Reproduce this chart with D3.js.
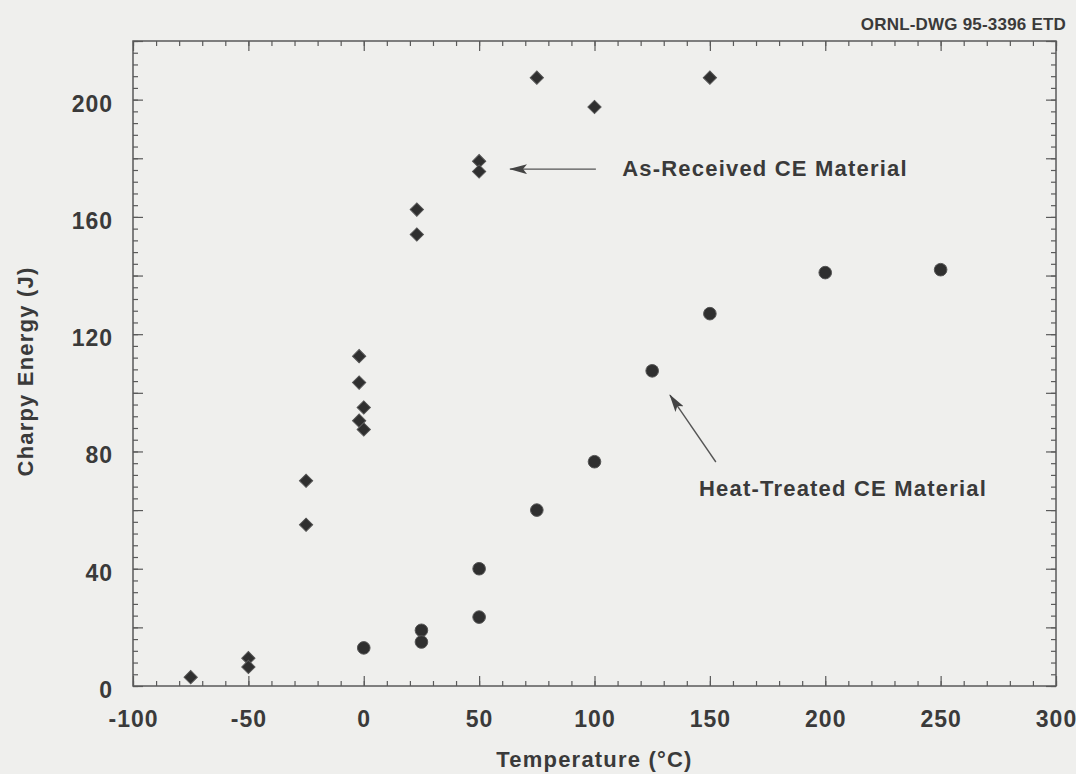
<!DOCTYPE html>
<html>
<head>
<meta charset="utf-8">
<script src="https://cdn.jsdelivr.net/npm/d3@7"></script>
<style>
  html, body { margin: 0; padding: 0; background: #efefed; }
  svg { display: block; font-family: "Liberation Sans", Arial, sans-serif; }
  .tick-label { font-family: "Liberation Sans", Arial, sans-serif; font-size: 23px; font-weight: bold; fill: #3a3a3a; letter-spacing: 1px; }
  .axis-title, .note { font-size: 22px; font-weight: bold; fill: #3a3a3a; letter-spacing: 1.2px; }
</style>
</head>
<body>
<div id="box-div"></div>
<script>
// - data
const asReceivedTemp = [-75, -50, -50, -25, -25, -2, -2, 0, -2, 0, 23, 23, 50, 50, 75, 100, 150]
const asReceivedEnergy = [3, 9.5, 6.5, 70, 55, 112.5, 103.5, 95, 90.5, 87.5, 162.5, 154, 179, 175.5, 207.5, 197.5, 207.5]

const heatTreatedTemp = [0, 25, 25, 50, 50, 75, 100, 125, 150, 200, 250]
const heatTreatedEnergy = [13, 19, 15, 40, 23.5, 60, 76.5, 107.5, 127, 141, 142]

const xLabelTicks = [-100, -50, 0, 50, 100, 150, 200, 250, 300]
const yLabelTicks = [0, 40, 80, 120, 160, 200]

// annotation anchors, in data units
const notes = [
  { text: 'As-Received CE Material', from: [100.6, 176.3], to: [63.4, 176.3], at: [112, 176.5] },
  { text: 'Heat-Treated CE Material', from: [152.6, 76.4], to: [132.7, 99.2], at: [145.3, 67.5] },
]

// - layout
const dms = {
  width: 1076,
  height: 774,
  margin: { top: 41, right: 20, bottom: 88, left: 133 },
}
const contentWidth = dms.width - dms.margin.left - dms.margin.right
const contentHeight = dms.height - dms.margin.top - dms.margin.bottom

const ink = '#3a3a3a'
const lineInk = '#5a5a5a'

const svg = d3.select('#box-div')
  .append('svg')
  .attr('width', dms.width)
  .attr('height', dms.height)

svg.append('defs').append('marker')
  .attr('id', 'head')
  .attr('viewBox', '0 0 18 10')
  .attr('refX', 17)
  .attr('refY', 5)
  .attr('markerWidth', 18)
  .attr('markerHeight', 10)
  .attr('markerUnits', 'userSpaceOnUse')
  .attr('orient', 'auto')
  .append('path')
  .attr('d', 'M0,0 L18,5 L0,10 L4,5 Z')
  .attr('fill', '#444')

const content = svg.append('g')
  .attr('transform', `translate(${dms.margin.left},${dms.margin.top})`)

// - scales
const xScale = d3.scaleLinear().domain([-100, 300]).range([0, contentWidth])
const yScale = d3.scaleLinear().domain([0, 220]).range([contentHeight, 0])

const xMinor = d3.range(-100, 301, 10)
const xMajor = d3.range(-100, 301, 50)
const yMinor = d3.range(0, 221, 4)
const yMajor = d3.range(0, 221, 20)

// ticks point inward on every side
function tickLayer(axis, values, len, transform) {
  const g = content.append('g')
    .attr('transform', transform)
    .call(axis.tickValues(values).tickSize(-len).tickSizeOuter(0).tickFormat(''))
  g.select('.domain').remove()
  g.selectAll('line').attr('stroke', lineInk).attr('stroke-width', 1.2)
  return g
}

tickLayer(d3.axisBottom(xScale), xMinor, 5, `translate(0,${contentHeight})`)
tickLayer(d3.axisBottom(xScale), xMajor, 10, `translate(0,${contentHeight})`)
tickLayer(d3.axisTop(xScale), xMinor, 5, 'translate(0,0)')
tickLayer(d3.axisTop(xScale), xMajor, 10, 'translate(0,0)')
tickLayer(d3.axisLeft(yScale), yMinor, 5, 'translate(0,0)')
tickLayer(d3.axisLeft(yScale), yMajor, 10, 'translate(0,0)')
tickLayer(d3.axisRight(yScale), yMinor, 5, `translate(${contentWidth},0)`)
tickLayer(d3.axisRight(yScale), yMajor, 10, `translate(${contentWidth},0)`)

// labels (plain hyphen for negatives, as in the drawing)
const plain = d => String(d)

const xAxis = content.append('g')
  .attr('transform', `translate(0,${contentHeight})`)
  .call(d3.axisBottom(xScale).tickValues(xLabelTicks).tickFormat(plain).tickSize(0).tickPadding(25))
  .attr('font-family', null)
  .attr('font-size', null)
xAxis.select('.domain').remove()
xAxis.selectAll('text').attr('class', 'tick-label')

const yAxis = content.append('g')
  .call(d3.axisLeft(yScale).tickValues(yLabelTicks).tickFormat(plain).tickSize(0).tickPadding(20))
  .attr('font-family', null)
  .attr('font-size', null)
yAxis.select('.domain').remove()
yAxis.selectAll('text').attr('class', 'tick-label').attr('dy', '0.5em')

// frame
content.append('rect')
  .attr('width', contentWidth)
  .attr('height', contentHeight)
  .attr('fill', 'none')
  .attr('stroke', lineInk)
  .attr('stroke-width', 1.5)

// - markers
const asReceived = asReceivedTemp.map((t, i) => ({ t, e: asReceivedEnergy[i] }))
const heatTreated = heatTreatedTemp.map((t, i) => ({ t, e: heatTreatedEnergy[i] }))

content.append('g').selectAll('path')
  .data(asReceived)
  .join('path')
  .attr('d', d3.symbol(d3.symbolSquare, 88))
  .attr('transform', d => `translate(${xScale(d.t)},${yScale(d.e)}) rotate(45)`)
  .attr('fill', '#2f2f2f')
  .attr('stroke', '#555')
  .attr('stroke-width', 1)

content.append('g').selectAll('circle')
  .data(heatTreated)
  .join('circle')
  .attr('cx', d => xScale(d.t))
  .attr('cy', d => yScale(d.e))
  .attr('r', 6.3)
  .attr('fill', '#2f2f2f')
  .attr('stroke', '#555')
  .attr('stroke-width', 1)

// - annotations
notes.forEach(n => {
  content.append('line')
    .attr('x1', xScale(n.from[0])).attr('y1', yScale(n.from[1]))
    .attr('x2', xScale(n.to[0])).attr('y2', yScale(n.to[1]))
    .attr('stroke', '#555')
    .attr('stroke-width', 1.4)
    .attr('marker-end', 'url(#head)')
  content.append('text')
    .attr('class', 'note')
    .attr('x', xScale(n.at[0]))
    .attr('y', yScale(n.at[1]))
    .attr('dy', '0.36em')
    .text(n.text)
})

// - titles
svg.append('text')
  .attr('class', 'axis-title')
  .attr('x', dms.margin.left + contentWidth / 2)
  .attr('y', dms.height)
  .attr('dy', '-0.3em')
  .attr('text-anchor', 'middle')
  .text('Temperature (°C)')

svg.append('text')
  .attr('class', 'axis-title')
  .attr('transform', `translate(33,${dms.margin.top + contentHeight / 2 + 8}) rotate(-90)`)
  .attr('text-anchor', 'middle')
  .text('Charpy Energy (J)')

svg.append('text')
  .attr('x', 1066)
  .attr('y', 30)
  .attr('text-anchor', 'end')
  .attr('font-size', 17)
  .attr('font-weight', 'bold')
  .attr('letter-spacing', 0.2)
  .attr('fill', ink)
  .text('ORNL-DWG 95-3396 ETD')
</script>
</body>
</html>
